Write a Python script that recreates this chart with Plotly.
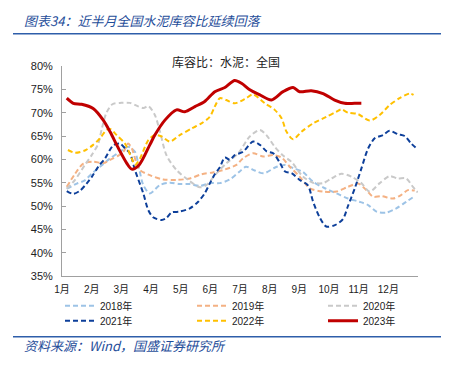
import plotly.graph_objects as go

# ---- data (x = month position, 0 = start of Jan) ----
months = ["1月", "2月", "3月", "4月", "5月", "6月", "7月", "8月", "9月", "10月", "11月", "12月"]

x2018 = [0.16, 0.5, 0.77, 1.0, 1.28, 1.62, 1.95, 2.23, 2.46, 2.6, 2.74, 2.96, 3.3, 3.64, 3.97, 4.31, 4.65, 4.98, 5.32, 5.66, 5.99, 6.2, 6.5, 6.8, 7.2, 7.5, 7.8, 8.12, 8.46, 8.86, 9.25, 9.64, 10.03, 10.32, 10.6, 10.93, 11.27, 11.6, 11.89]
y2018 = [53.7, 54.8, 55.5, 56.9, 58.4, 60.2, 61.6, 62.7, 61.6, 58.0, 54.5, 52.7, 54.5, 55.0, 54.7, 54.7, 54.3, 54.9, 54.9, 55.7, 57.4, 58.4, 57.6, 57.0, 58.3, 58.8, 58.1, 57.3, 55.2, 53.8, 52.7, 51.6, 50.9, 50.2, 48.8, 48.6, 49.5, 50.9, 52.1]

x2019 = [0.16, 0.44, 0.72, 1.05, 1.39, 1.62, 1.9, 2.07, 2.23, 2.35, 2.51, 2.63, 2.96, 3.41, 3.86, 4.31, 4.7, 5.09, 5.43, 5.88, 6.1, 6.44, 6.78, 7.12, 7.4, 7.68, 8.01, 8.35, 8.8, 9.25, 9.64, 9.98, 10.26, 10.48, 10.77, 11.16, 11.44, 11.66, 11.89]
y2019 = [54.1, 56.9, 59.1, 59.5, 59.2, 59.9, 60.8, 61.6, 63.4, 62.4, 59.2, 57.7, 56.6, 55.7, 55.6, 55.9, 56.8, 57.2, 57.7, 58.8, 60.2, 61.3, 60.6, 60.9, 60.4, 58.4, 56.3, 53.8, 53.1, 53.1, 54.1, 54.8, 53.4, 52.0, 52.1, 51.6, 52.4, 53.4, 53.3]

x2020 = [0.16, 0.44, 0.77, 1.0, 1.22, 1.34, 1.5, 1.7, 2.0, 2.29, 2.55, 2.75, 2.91, 3.13, 3.3, 3.52, 3.86, 4.25, 4.65, 4.87, 5.21, 5.55, 5.94, 6.33, 6.67, 6.89, 7.17, 7.45, 7.73, 8.12, 8.46, 8.8, 9.08, 9.42, 9.75, 10.09, 10.37, 10.71, 11.04, 11.32, 11.6, 11.83, 11.99]
y2020 = [53.7, 55.6, 58.8, 60.9, 63.3, 66.5, 70.0, 71.8, 72.1, 72.1, 71.4, 71.0, 71.4, 69.5, 66.0, 60.9, 57.7, 55.6, 54.0, 54.5, 57.0, 59.2, 61.3, 64.9, 66.3, 65.2, 62.7, 60.8, 59.5, 56.3, 55.0, 54.9, 55.9, 56.9, 56.3, 54.9, 53.1, 54.9, 56.4, 55.9, 55.9, 54.1, 52.9]

x2021 = [0.16, 0.38, 0.61, 0.83, 1.0, 1.22, 1.45, 1.73, 1.95, 2.12, 2.29, 2.46, 2.74, 2.91, 3.07, 3.36, 3.52, 3.69, 3.97, 4.31, 4.59, 4.81, 4.98, 5.15, 5.32, 5.49, 5.66, 5.82, 6.1, 6.44, 6.67, 6.9, 7.12, 7.34, 7.52, 7.75, 8.01, 8.29, 8.46, 8.69, 8.91, 9.2, 9.47, 9.64, 9.87, 10.09, 10.31, 10.54, 10.82, 11.04, 11.32, 11.55, 11.77, 11.96]
y2021 = [53.2, 52.6, 53.3, 54.8, 56.2, 58.4, 60.2, 63.0, 63.4, 62.4, 61.3, 57.7, 52.7, 49.1, 47.6, 47.0, 47.4, 48.6, 48.8, 49.5, 50.9, 52.7, 54.8, 56.8, 58.3, 60.4, 59.9, 60.9, 61.6, 63.8, 63.1, 61.7, 61.3, 59.3, 57.4, 57.0, 55.6, 54.4, 51.0, 47.5, 45.6, 45.9, 47.2, 50.0, 53.8, 58.0, 62.2, 64.5, 65.2, 66.1, 65.4, 65.0, 63.4, 62.3]

x2022 = [0.2, 0.44, 0.77, 1.05, 1.28, 1.5, 1.62, 1.84, 2.12, 2.35, 2.46, 2.63, 2.91, 3.13, 3.36, 3.64, 3.97, 4.37, 4.7, 4.98, 5.15, 5.32, 5.54, 5.82, 6.16, 6.44, 6.84, 7.17, 7.4, 7.57, 7.79, 8.07, 8.46, 8.91, 9.25, 9.42, 9.64, 9.98, 10.37, 10.71, 11.04, 11.38, 11.72, 11.85]
y2022 = [62.0, 61.4, 61.9, 63.1, 64.5, 66.3, 66.5, 65.2, 63.4, 60.2, 58.8, 60.2, 64.1, 65.2, 64.9, 63.8, 65.2, 66.6, 67.7, 69.1, 71.3, 73.1, 72.7, 72.0, 72.9, 73.9, 72.0, 70.6, 68.8, 65.9, 64.3, 65.9, 67.7, 69.1, 70.2, 70.7, 70.0, 69.7, 68.3, 69.5, 71.6, 73.1, 74.1, 73.8]

x2023 = [0.16, 0.38, 0.66, 1.05, 1.39, 1.62, 1.9, 2.18, 2.35, 2.6, 2.96, 3.13, 3.47, 3.86, 4.14, 4.48, 4.81, 5.15, 5.49, 5.82, 6.05, 6.33, 6.67, 7.06, 7.45, 7.79, 8.01, 8.4, 8.8, 9.19, 9.53, 9.86, 10.09]
y2023 = [73.1, 72.0, 71.8, 70.9, 68.4, 65.9, 62.4, 59.2, 57.9, 58.8, 63.1, 65.2, 68.4, 70.6, 70.2, 71.3, 72.4, 74.5, 75.4, 76.9, 76.3, 74.9, 73.8, 72.7, 74.5, 75.4, 74.5, 74.7, 74.1, 72.7, 72.0, 72.0, 72.0]

yticks = [35, 40, 45, 50, 55, 60, 65, 70, 75, 80]

series = [
    ("2018年", x2018, y2018, "#9DC3E6", 2, "5px,3px"),
    ("2019年", x2019, y2019, "#F4B183", 2, "5px,3px"),
    ("2020年", x2020, y2020, "#C9C9C9", 2, "5px,3px"),
    ("2021年", x2021, y2021, "#0D3F9A", 2, "5px,3px"),
    ("2022年", x2022, y2022, "#FFC000", 2, "5px,3px"),
    ("2023年", x2023, y2023, "#C00000", 3, "solid"),
]

FONT = "Liberation Sans, Arial, Noto Sans CJK SC, sans-serif"
CJK = "Noto Sans CJK SC, sans-serif"

# the page body has an 8px margin: size the figure so it fills the window
OFF = 8
W, H = 456 - OFF, 367 - OFF
L, R, T, B = 62 - OFF, 38, 66 - OFF, 91
pw, ph = W - L - R, H - T - B


def px(xp):  # page pixel -> paper x
    return (xp - OFF - L) / pw


def py(yp):  # page pixel -> paper y
    return (H - B - (yp - OFF)) / ph


legend_cols = [65, 197, 328]
legend_rows = [305.7, 320.7]

fig = go.Figure()
legends = {}
for i, (name, xs, ys, color, w, dash) in enumerate(series):
    key = "legend" if i == 0 else f"legend{i + 1}"
    fig.add_trace(go.Scatter(
        x=xs, y=ys, name=name, mode="lines",
        line=dict(color=color, width=w, dash=dash, shape="spline", smoothing=0.8),
        legend=key,
    ))
    col, row = i % 3, i // 3
    legends[key] = dict(
        orientation="h", xref="paper", yref="paper",
        x=px(legend_cols[col] - 5), xanchor="left",
        y=py(legend_rows[row]), yanchor="middle",
        font=dict(size=10, family=FONT, color="#222"),
        bgcolor="rgba(0,0,0,0)", itemwidth=30,
    )

fig.update_layout(
    width=W, height=H,
    margin=dict(l=L, r=R, t=T, b=B),
    paper_bgcolor="white", plot_bgcolor="white",
    font=dict(family=FONT, size=11, color="#222"),
    showlegend=True,
    **legends,
    xaxis=dict(range=[0, 12], tickmode="array", tickvals=list(range(12)), ticktext=months,
               showgrid=False, zeroline=False, showline=True, linecolor="#A0A0A0", linewidth=1,
               ticks="", ticklabelstandoff=4,
               tickfont=dict(size=10, family=FONT, color="#222"), fixedrange=True),
    yaxis=dict(range=[35, 80], tickmode="array", tickvals=yticks,
               ticktext=[f"{v}%" for v in yticks],
               showgrid=False, zeroline=False, showline=True, linecolor="#A0A0A0", linewidth=1,
               ticks="inside", ticklen=4, tickcolor="#A0A0A0", ticklabelstandoff=6,
               tickfont=dict(size=11, family=FONT, color="#222"), fixedrange=True),
    shapes=[
        dict(type="line", xref="paper", yref="paper", x0=px(13), x1=px(441), y0=py(33.7), y1=py(33.7),
             line=dict(color="#2E5EAA", width=1.5)),
        dict(type="line", xref="paper", yref="paper", x0=px(13), x1=px(441), y0=py(336.7), y1=py(336.7),
             line=dict(color="#2E5EAA", width=1.5)),
    ],
    annotations=[
        dict(text="<i>图表34：近半月全国水泥库容比延续回落</i>", xref="paper", yref="paper",
             x=px(22), y=py(20.7), xanchor="left", yanchor="middle", showarrow=False,
             font=dict(family=CJK, size=13, color="#1F4E9A")),
        dict(text="库容比：水泥：全国", xref="paper", yref="paper",
             x=px(226), y=py(61.5), xanchor="center", yanchor="middle", showarrow=False,
             font=dict(family=CJK, size=12, color="#222")),
        dict(text="<i>资料来源：Wind，国盛证券研究所</i>", xref="paper", yref="paper",
             x=px(22), y=py(345.7), xanchor="left", yanchor="middle", showarrow=False,
             font=dict(family=CJK, size=13, color="#1F4E9A")),
    ],
)

fig.write_html("out.html")
